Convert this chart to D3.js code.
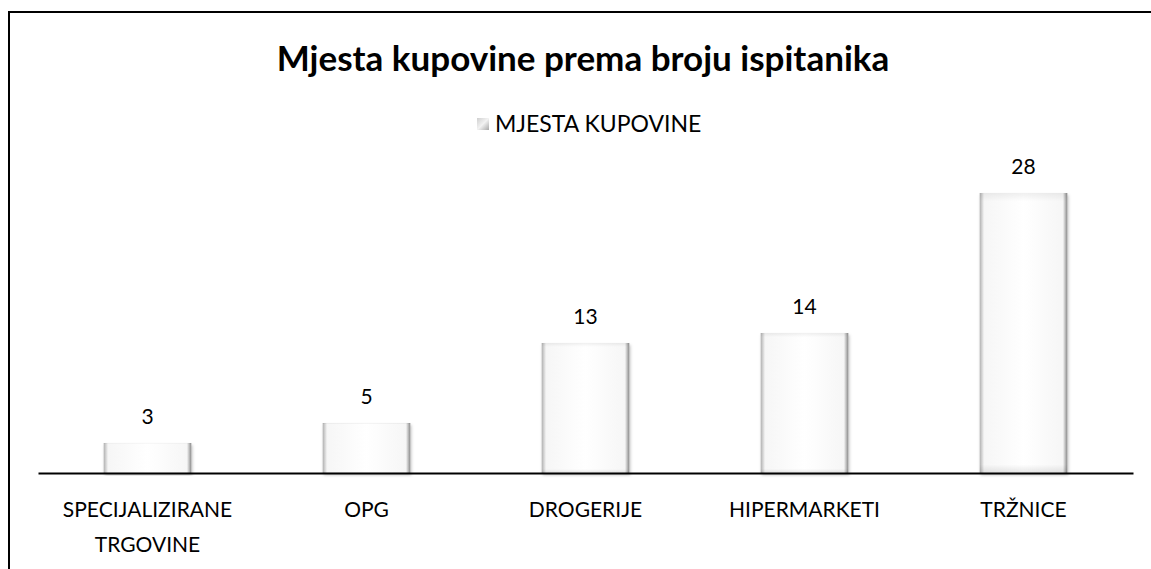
<!DOCTYPE html>
<html>
<head>
<meta charset="utf-8">
<script src="https://cdn.jsdelivr.net/npm/d3@7"></script>
<style>
  body { margin: 0; background: #fff; }
  svg { display: block; font-family: Lato, "Open Sans", sans-serif; }
</style>
</head>
<body>
<div id="chart"></div>
<script>
// data
var categories = ["SPECIJALIZIRANE TRGOVINE", "OPG", "DROGERIJE", "HIPERMARKETI", "TRŽNICE"];
var values = [3, 5, 13, 14, 28];
var seriesName = "MJESTA KUPOVINE";
var title = "Mjesta kupovine prema broju ispitanika";

var W = 1151, H = 569;
var plot = {left: 38, right: 1133, base: 473};

var svg = d3.select("#chart").append("svg")
    .attr("width", W)
    .attr("height", H);

var defs = svg.append("defs");
var grad = defs.append("linearGradient").attr("id", "barGrad")
    .attr("x1", "0").attr("x2", "1").attr("y1", "0").attr("y2", "0");
grad.append("stop").attr("offset", "0%").attr("stop-color", "#b0b0b0");
grad.append("stop").attr("offset", "5%").attr("stop-color", "#f6f6f6");
grad.append("stop").attr("offset", "50%").attr("stop-color", "#ffffff");
grad.append("stop").attr("offset", "95%").attr("stop-color", "#f6f6f6");
grad.append("stop").attr("offset", "100%").attr("stop-color", "#8a8a8a");

var legGrad = defs.append("linearGradient").attr("id", "legGrad")
    .attr("x1", "0").attr("x2", "1").attr("y1", "0").attr("y2", "1");
legGrad.append("stop").attr("offset", "0%").attr("stop-color", "#cfcfcf");
legGrad.append("stop").attr("offset", "50%").attr("stop-color", "#f2f2f2");
legGrad.append("stop").attr("offset", "100%").attr("stop-color", "#a8a8a8");

var vgrad = defs.append("linearGradient").attr("id", "barGradV")
    .attr("x1", "0").attr("x2", "0").attr("y1", "0").attr("y2", "1");
vgrad.append("stop").attr("offset", "0%").attr("stop-color", "#000").attr("stop-opacity", 0.06);
vgrad.append("stop").attr("offset", "3%").attr("stop-color", "#000").attr("stop-opacity", 0);
vgrad.append("stop").attr("offset", "97%").attr("stop-color", "#000").attr("stop-opacity", 0);
vgrad.append("stop").attr("offset", "100%").attr("stop-color", "#000").attr("stop-opacity", 0.1);

var shadow = defs.append("filter").attr("id", "shadow")
    .attr("x", "-10%").attr("y", "-10%").attr("width", "120%").attr("height", "120%");
shadow.append("feDropShadow").attr("dx", 1).attr("dy", 2).attr("stdDeviation", 1.5)
    .attr("flood-color", "#000").attr("flood-opacity", 0.25);

// outer border (left + top only visible)
svg.append("path")
    .attr("d", "M9," + H + " V12 H" + W)
    .attr("fill", "none")
    .attr("stroke", "#000")
    .attr("stroke-width", 2);

var x = d3.scaleBand()
    .domain(categories)
    .range([plot.left, plot.right])
    .paddingInner(0.6)
    .paddingOuter(0.3);

var y = d3.scaleLinear()
    .domain([0, 30])
    .range([plot.base, plot.base - 300]);

// title
svg.append("text")
    .attr("x", 583)
    .attr("y", 71)
    .attr("text-anchor", "middle")
    .style("font-size", "35px")
    .style("font-weight", "bold")
    .text(title);

// legend
var leg = svg.append("g").attr("transform", "translate(477,118)");
leg.append("rect")
    .attr("width", 12).attr("height", 12)
    .attr("fill", "url(#legGrad)");
leg.append("text")
    .attr("x", 18)
    .attr("y", 14)
    .style("font-size", "23px")
    .text(seriesName);

// bars
svg.append("g")
    .selectAll("rect")
    .data(values)
    .enter()
    .append("rect")
    .attr("x", function(d, i) { return x(categories[i]); })
    .attr("y", function(d) { return y(d); })
    .attr("width", x.bandwidth())
    .attr("height", function(d) { return y(0) - y(d); })
    .attr("fill", "url(#barGrad)")
    .attr("filter", "url(#shadow)");

svg.append("g")
    .selectAll("rect")
    .data(values)
    .enter()
    .append("rect")
    .attr("x", function(d, i) { return x(categories[i]); })
    .attr("y", function(d) { return y(d); })
    .attr("width", x.bandwidth())
    .attr("height", function(d) { return y(0) - y(d); })
    .attr("fill", "url(#barGradV)");

// value labels
svg.append("g")
    .selectAll("text")
    .data(values)
    .enter()
    .append("text")
    .attr("x", function(d, i) { return x(categories[i]) + x.bandwidth() / 2; })
    .attr("y", function(d) { return y(d) - 19; })
    .attr("text-anchor", "middle")
    .style("font-size", "21px")
    .text(function(d) { return d; });

// baseline axis
var axis = svg.append("g")
    .attr("transform", "translate(0," + plot.base + ")")
    .call(d3.axisBottom(x).tickSize(0).tickPadding(0));
axis.select(".domain").attr("stroke", "#000").attr("stroke-width", 2);
axis.selectAll(".tick text").remove();

// category labels (wrapped)
var labels = axis.selectAll(".tick")
    .append("text")
    .attr("fill", "#000")
    .attr("text-anchor", "middle")
    .style("font-size", "21px")
    .style("font-family", "Lato, 'Open Sans', sans-serif");
labels.each(function(d) {
    var words = d.split(" ");
    var t = d3.select(this);
    words.forEach(function(w, j) {
        t.append("tspan").attr("x", 0).attr("y", 44 + j * 35).text(w);
    });
});
</script>
</body>
</html>
